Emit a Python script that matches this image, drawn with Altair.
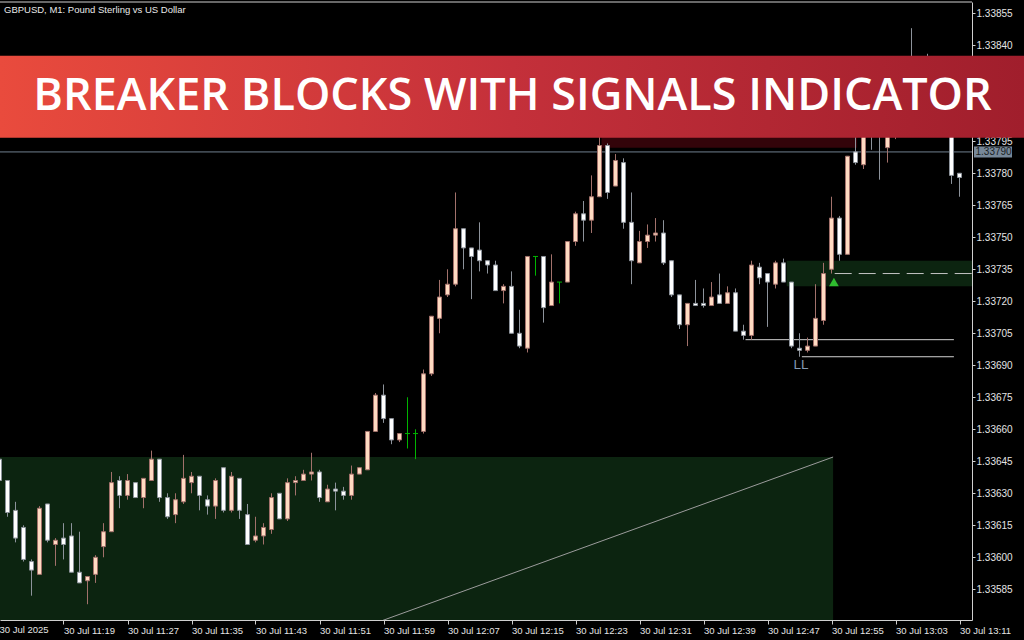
import json

import altair as alt
import pandas as pd

# GBPUSD M1 bars, one per minute starting 30 Jul 2025 11:11
opens = [
    1.33646, 1.33636, 1.33622, 1.33614, 1.33598, 1.33592, 1.33625, 1.33606, 1.33609, 1.33610,
    1.33593, 1.33589, 1.33592, 1.33605, 1.33612, 1.33636, 1.33629, 1.33635, 1.33628, 1.33636,
    1.33646, 1.33628, 1.33620, 1.33626, 1.33635, 1.33638, 1.33627, 1.33624, 1.33642, 1.33622,
    1.33637, 1.33620, 1.33608, 1.33610, 1.33613, 1.33630, 1.33618, 1.33635, 1.33636, 1.33639,
    1.33640, 1.33626, 1.33632, 1.33631, 1.33629, 1.33639, 1.33641, 1.33659, 1.33676, 1.33665,
    1.33655, 1.33658, 1.33658, 1.33659, 1.33686, 1.33712, 1.33723, 1.33728, 1.33754, 1.33745,
    1.33744, 1.33739, 1.33737, 1.33725, 1.33727, 1.33705, 1.33698, 1.33741, 1.33741, 1.33718,
    1.33729, 1.33729, 1.33748, 1.33761, 1.33758, 1.33769, 1.33793, 1.33774, 1.33785, 1.33757,
    1.33738, 1.33748, 1.33751, 1.33752, 1.33739, 1.33723, 1.33709, 1.33719, 1.33719, 1.33718,
    1.33723, 1.33719, 1.33724, 1.33706, 1.33704, 1.33736, 1.33733, 1.33728, 1.33738, 1.33729,
    1.33698, 1.33697, 1.33699, 1.33711, 1.33735, 1.33759, 1.33742, 1.33790, 1.33784, 1.33812,
    1.33815, 1.33792, 1.33808, 1.33815, 1.33832, 1.33822, 1.33828, 1.33818, 1.33812, 1.33806,
    1.33780,
]
highs = [
    1.33646, 1.33636, 1.33626, 1.33615, 1.33599, 1.33624, 1.33625, 1.33609, 1.33616, 1.33616,
    1.33612, 1.33591, 1.33601, 1.33616, 1.33640, 1.33638, 1.33639, 1.33635, 1.33637, 1.33650,
    1.33646, 1.33630, 1.33630, 1.33648, 1.33640, 1.33638, 1.33629, 1.33637, 1.33642, 1.33640,
    1.33637, 1.33625, 1.33619, 1.33616, 1.33630, 1.33630, 1.33637, 1.33638, 1.33641, 1.33649,
    1.33641, 1.33634, 1.33635, 1.33633, 1.33643, 1.33642, 1.33659, 1.33677, 1.33681, 1.33665,
    1.33658, 1.33675, 1.33660, 1.33688, 1.33713, 1.33730, 1.33735, 1.33771, 1.33754, 1.33745,
    1.33757, 1.33739, 1.33739, 1.33728, 1.33734, 1.33716, 1.33741, 1.33741, 1.33741, 1.33742,
    1.33729, 1.33748, 1.33762, 1.33767, 1.33779, 1.33800, 1.33794, 1.33789, 1.33787, 1.33771,
    1.33753, 1.33756, 1.33759, 1.33758, 1.33739, 1.33723, 1.33719, 1.33730, 1.33726, 1.33729,
    1.33733, 1.33727, 1.33726, 1.33709, 1.33739, 1.33738, 1.33733, 1.33739, 1.33740, 1.33729,
    1.33705, 1.33703, 1.33728, 1.33738, 1.33769, 1.33760, 1.33788, 1.33799, 1.33810, 1.33816,
    1.33820, 1.33812, 1.33822, 1.33830, 1.33848, 1.33834, 1.33836, 1.33822, 1.33816, 1.33810,
    1.33780,
]
lows = [
    1.33636, 1.33619, 1.33607, 1.33598, 1.33582, 1.33592, 1.33607, 1.33596, 1.33599, 1.33593,
    1.33588, 1.33578, 1.33588, 1.33600, 1.33612, 1.33623, 1.33627, 1.33628, 1.33623, 1.33636,
    1.33626, 1.33618, 1.33616, 1.33625, 1.33630, 1.33622, 1.33620, 1.33618, 1.33621, 1.33621,
    1.33618, 1.33606, 1.33607, 1.33606, 1.33611, 1.33618, 1.33617, 1.33629, 1.33636, 1.33636,
    1.33626, 1.33626, 1.33622, 1.33627, 1.33627, 1.33639, 1.33641, 1.33659, 1.33663, 1.33653,
    1.33654, 1.33651, 1.33646, 1.33658, 1.33685, 1.33705, 1.33722, 1.33727, 1.33735, 1.33721,
    1.33734, 1.33733, 1.33725, 1.33719, 1.33705, 1.33698, 1.33696, 1.33732, 1.33710, 1.33718,
    1.33719, 1.33729, 1.33746, 1.33748, 1.33752, 1.33769, 1.33768, 1.33774, 1.33754, 1.33728,
    1.33738, 1.33745, 1.33748, 1.33737, 1.33722, 1.33707, 1.33699, 1.33718, 1.33717, 1.33718,
    1.33719, 1.33719, 1.33706, 1.33702, 1.33702, 1.33728, 1.33708, 1.33726, 1.33729, 1.33698,
    1.33694, 1.33696, 1.33699, 1.33709, 1.33733, 1.33739, 1.33742, 1.33784, 1.33782, 1.33791,
    1.33777, 1.33785, 1.33796, 1.33810, 1.33818, 1.33815, 1.33812, 1.33806, 1.33800, 1.33775,
    1.33769,
]
closes = [
    1.33636, 1.33621, 1.33609, 1.33599, 1.33594, 1.33623, 1.33608, 1.33608, 1.33606, 1.33593,
    1.33588, 1.33591, 1.33600, 1.33612, 1.33635, 1.33629, 1.33636, 1.33628, 1.33637, 1.33646,
    1.33628, 1.33619, 1.33627, 1.33637, 1.33638, 1.33629, 1.33624, 1.33636, 1.33622, 1.33638,
    1.33622, 1.33606, 1.33610, 1.33614, 1.33628, 1.33618, 1.33635, 1.33636, 1.33639, 1.33640,
    1.33628, 1.33632, 1.33631, 1.33629, 1.33639, 1.33642, 1.33659, 1.33676, 1.33665, 1.33655,
    1.33658, 1.33658, 1.33658, 1.33686, 1.33713, 1.33722, 1.33728, 1.33754, 1.33745, 1.33741,
    1.33739, 1.33737, 1.33725, 1.33727, 1.33705, 1.33699, 1.33741, 1.33741, 1.33717, 1.33729,
    1.33729, 1.33748, 1.33761, 1.33758, 1.33769, 1.33793, 1.33771, 1.33786, 1.33757, 1.33739,
    1.33748, 1.33751, 1.33752, 1.33738, 1.33723, 1.33709, 1.33719, 1.33718, 1.33718, 1.33722,
    1.33719, 1.33724, 1.33706, 1.33704, 1.33737, 1.33731, 1.33729, 1.33738, 1.33729, 1.33699,
    1.33697, 1.33699, 1.33712, 1.33733, 1.33759, 1.33742, 1.33788, 1.33785, 1.33806, 1.33804,
    1.33803, 1.33806, 1.33815, 1.33824, 1.33822, 1.33828, 1.33818, 1.33812, 1.33806, 1.33779,
    1.33778,
]

time_labels = [
    "30 Jul 2025", "30 Jul 11:19", "30 Jul 11:27", "30 Jul 11:35", "30 Jul 11:43",
    "30 Jul 11:51", "30 Jul 11:59", "30 Jul 12:07", "30 Jul 12:15", "30 Jul 12:23",
    "30 Jul 12:31", "30 Jul 12:39", "30 Jul 12:47", "30 Jul 12:55", "30 Jul 13:03",
    "30 Jul 13:11",
]
label_bars = [0, 8, 16, 24, 32, 40, 48, 56, 64, 72, 80, 88, 96, 104, 112, 120]
# price scale marks; the two levels that sit under the title banner are left out
price_ticks = [
    1.33585, 1.33600, 1.33615, 1.33630, 1.33645, 1.33660, 1.33675, 1.33690, 1.33705,
    1.33720, 1.33735, 1.33750, 1.33765, 1.33780, 1.33795, 1.33840, 1.33855,
]

# breaker blocks (bar span and price span)
bull_start = [-10, 98.4]
bull_end = [104.2, 130]
bull_low = [1.33560, 1.33727]
bull_high = [1.33647, 1.33739]
bear_start = [75.25]
bear_end = [107.2]
bear_low = [1.33792]
bear_high = [1.33800]

# trend line from below the window up to the block corner
trend_bar = [47.6, 104.2]
trend_price = [1.33570, 1.33647]

# swing-low levels and the retest level
swing_start = [93.25, 100.3]
swing_end = [119.3, 119.3]
swing_price = [1.33702, 1.33694]
retest_start = [104.4]
retest_price = [1.33733]

signal_bar = [104.3]
signal_price = [1.33729]
ll_bar = [100]
ll_price = [1.33694]
ll_text = ["LL"]

bid_price = 1.33790
symbol_title = "GBPUSD, M1:  Pound Sterling vs US Dollar"
banner_title = "BREAKER BLOCKS WITH SIGNALS INDICATOR"

FONT = "Liberation Sans"
BULL_FILL, BULL_LINE = "#ffdbc2", "#a2716b"
BEAR_FILL, BEAR_LINE = "#ffffff", "#8d939b"
DOJI = "#00b400"
FRAME = "#cfcfcf"
LABEL = "#e4e4e4"

x_scale = alt.Scale(domain=[0.0625, 121.5625], nice=False, zero=False)
y_scale = alt.Scale(domain=[1.3357061, 1.3386027], nice=False, zero=False)

kinds = ["doji" if c == o else ("bull" if c > o else "bear") for o, c in zip(opens, closes)]
bars = pd.DataFrame({
    "bar": list(range(len(opens))),
    "open": opens, "high": highs, "low": lows, "close": closes, "kind": kinds,
})

x_axis = alt.Axis(
    values=label_bars,
    labelExpr=f"{json.dumps(time_labels)}[indexof({json.dumps(label_bars)}, datum.value)]",
    grid=False, title=None, domainColor=FRAME, tickColor=FRAME, tickSize=4,
    labelColor=LABEL, labelFont=FONT, labelFontSize=9.5, labelAlign="left",
    labelPadding=1, labelFlush=False, labelBound=False, labelOverlap=False,
)
y_axis = alt.Axis(
    orient="right", values=price_ticks, format=".5f", grid=False, title=None,
    domainColor=FRAME, tickColor=FRAME, tickSize=3, labelColor=LABEL,
    labelFont=FONT, labelFontSize=10, labelPadding=1, labelFlush=False,
    labelBound=False, labelOverlap=False,
)


def X(field):
    return alt.X(field, scale=x_scale, axis=x_axis)


def Y(field):
    return alt.Y(field, scale=y_scale, axis=y_axis)


kind_dom = ["bull", "bear", "doji"]
line_scale = alt.Scale(domain=kind_dom, range=[BULL_LINE, BEAR_LINE, DOJI])
fill_scale = alt.Scale(domain=kind_dom, range=[BULL_FILL, BEAR_FILL, DOJI])

base = alt.Chart(bars)

wicks = base.mark_rule(strokeWidth=1).encode(
    x=X("bar:Q"),
    y=Y("low:Q"),
    y2="high:Q",
    color=alt.Color("kind:N", scale=line_scale, legend=None),
)

bodies = base.transform_filter("datum.kind != 'doji'").transform_calculate(
    xl="datum.bar - 0.25", xr="datum.bar + 0.25"
).mark_rect(strokeWidth=1).encode(
    x=X("xl:Q"),
    x2="xr:Q",
    y=Y("open:Q"),
    y2="close:Q",
    fill=alt.Fill("kind:N", scale=fill_scale, legend=None),
    stroke=alt.Stroke("kind:N", scale=line_scale, legend=None),
)

doji_bars = base.transform_filter("datum.kind == 'doji'").transform_calculate(
    xl="datum.bar - 0.3125", xr="datum.bar + 0.3125"
).mark_rule(color=DOJI, strokeWidth=1).encode(
    x=X("xl:Q"),
    x2="xr:Q",
    y=Y("open:Q"),
)

bull_df = pd.DataFrame({"s": bull_start, "e": bull_end, "lo": bull_low, "hi": bull_high})
bear_df = pd.DataFrame({"s": bear_start, "e": bear_end, "lo": bear_low, "hi": bear_high})


def block_layer(df, color):
    return alt.Chart(df).mark_rect(color=color, clip=True).encode(
        x=X("s:Q"), x2="e:Q", y=Y("lo:Q"), y2="hi:Q",
    )


bull_blocks = block_layer(bull_df, "#0c2410")
bear_blocks = block_layer(bear_df, "#33040a")

trend = alt.Chart(pd.DataFrame({
    "b0": [trend_bar[0]], "b1": [trend_bar[1]], "p0": [trend_price[0]], "p1": [trend_price[1]],
})).mark_rule(color="#9c9c9c", strokeWidth=1, clip=True).encode(
    x=X("b0:Q"), x2="b1:Q", y=Y("p0:Q"), y2="p1:Q",
)

bid_line = alt.Chart(pd.DataFrame({"p": [bid_price]})).mark_rule(
    color="#6f7f8e", strokeWidth=1
).encode(y=Y("p:Q"))

swings = alt.Chart(pd.DataFrame({"s": swing_start, "e": swing_end, "p": swing_price})).mark_rule(
    color="#d2d2d2", strokeWidth=1
).encode(x=X("s:Q"), x2="e:Q", y=Y("p:Q"))

retest = alt.Chart(pd.DataFrame({"s": retest_start, "p": retest_price, "e": [130]})).mark_rule(
    color="#c4c4c4", strokeWidth=1, strokeDash=[17, 7], clip=True
).encode(x=X("s:Q"), x2="e:Q", y=Y("p:Q"))

signal = alt.Chart(pd.DataFrame({"b": signal_bar, "p": signal_price})).mark_point(
    shape="triangle-up", filled=True, size=95, color="#2fbd2f", opacity=1
).encode(x=X("b:Q"), y=Y("p:Q"))

ll_label = alt.Chart(pd.DataFrame({"b": ll_bar, "p": ll_price, "t": ll_text})).mark_text(
    font=FONT, fontSize=13.5, color="#8499b3", dy=8, dx=1.5, baseline="middle", align="center"
).encode(x=X("b:Q"), y=Y("p:Q"), text="t:N")

# the first time label sits left of the visible window, so it is written here
first_label = alt.Chart(pd.DataFrame({"b": [label_bars[0]], "t": [time_labels[0]]})).mark_text(
    font=FONT, fontSize=9.5, color=LABEL, align="left", baseline="top"
).encode(x=X("b:Q"), y=alt.value(623), text="t:N")

one = pd.DataFrame({"t": [0]})
top_frame = alt.Chart(one).mark_rule(color=FRAME, strokeWidth=1).encode(
    x=alt.value(0), x2=alt.value(972), y=alt.value(0)
)

bid_df = pd.DataFrame({"p": [bid_price], "t": [f"{bid_price:.5f}"]})
bid_box = alt.Chart(bid_df).mark_tick(
    orient="horizontal", size=38, thickness=11, color="#778899", opacity=1
).encode(x=alt.value(993), y=Y("p:Q"))
bid_text = alt.Chart(bid_df).mark_text(
    font=FONT, fontSize=10, color="#1b1f24", align="left", baseline="middle"
).encode(x=alt.value(975.5), y=Y("p:Q"), text="t:N")

symbol = alt.Chart(pd.DataFrame({"t": [symbol_title]})).mark_text(
    font=FONT, fontSize=9.5, color="#e8e8e8", align="left", baseline="alphabetic"
).encode(x=alt.value(4), y=alt.value(10.7), text="t:N")

banner = alt.Chart(one).mark_rect(
    color=alt.LinearGradient(
        gradient="linear",
        stops=[
            alt.GradientStop(color="#e94b3d", offset=0),
            alt.GradientStop(color="#c4303a", offset=0.5),
            alt.GradientStop(color="#a01e2c", offset=1),
        ],
        x1=0, x2=1, y1=0, y2=0,
    )
).encode(x=alt.value(0), x2=alt.value(1024), y=alt.value(53.7), y2=alt.value(135.7))

banner_text = alt.Chart(pd.DataFrame({"t": [banner_title]})).mark_text(
    font="Open Sans", fontSize=45, fontWeight=600, color="#ffffff",
    align="center", baseline="alphabetic"
).encode(x=alt.value(512.5), y=alt.value(107.8), text="t:N")

chart = alt.layer(
    bull_blocks, bear_blocks, trend, bid_line, swings, retest,
    wicks, bodies, doji_bars, signal, ll_label, first_label, top_frame,
    bid_box, bid_text, symbol, banner, banner_text,
).properties(
    width=972, height=618, background="#000000",
    padding={"left": 0, "top": 2, "right": 52, "bottom": 20},
    autosize=alt.AutoSizeParams(type="none"),
).configure_view(stroke=None)

chart.save("out.html", embed_options={"renderer": "svg", "actions": False})
